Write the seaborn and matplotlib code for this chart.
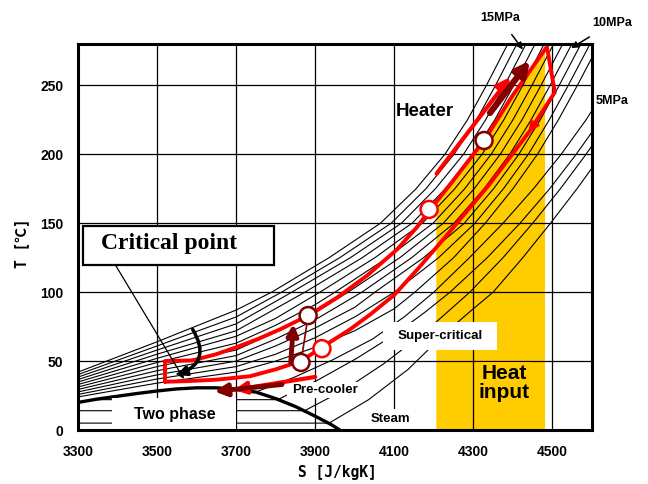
import numpy as np
import pandas as pd
import matplotlib
matplotlib.use("Agg")
import matplotlib.pyplot as plt
from matplotlib.patches import Rectangle
import seaborn as sns

# ---------------- data ----------------
# supercritical isobars (fan from the left edge): T [C] at fixed S (lower part)
fan_S_left = [3300, 3500, 3700, 3800, 3900, 4000, 4100]
fan_T_left = [
    [42.0, 64, 87, None, None, None, None],
    [40.2, 61, 82, None, None, None, None],
    [38.4, 58, 77, None, None, None, None],
    [36.6, 55, 72, None, None, None, None],
    [34.8, 52, 68, 81, None, None, None],
    [33.0, 49, 63, 76, 91, None, None],
    [31.2, 46, 58, 71, 85, None, None],
    [29.4, 43, 54, 66, 80, None, None],
    [27.6, 40, 50, 61, 74, 89, None],
    [25.8, 37, 46, 55, 67, 82, None],
    [24.0, 34, 42, 50, 60, 72, 88],
]
# upper, steep part: S at fixed temperature levels
fan_T_levels = [100, 125, 150, 175, 200, 225, 250, 280]
fan_S_upper = [
    [3790, 3935, 4065, 4155, 4228, 4285, 4333, 4387],
    [3815, 3962, 4092, 4180, 4251, 4308, 4356, 4410],
    [3841, 3989, 4118, 4204, 4275, 4331, 4379, 4433],
    [3874, 4019, 4145, 4229, 4298, 4354, 4402, 4456],
    [3912, 4051, 4171, 4253, 4322, 4377, 4425, 4479],
    [3950, 4083, 4198, 4278, 4345, 4400, 4448, 4503],
    [3983, 4114, 4224, 4302, 4368, 4423, 4471, 4526],
    [4018, 4144, 4251, 4327, 4392, 4446, 4494, 4549],
    [4051, 4174, 4277, 4351, 4415, 4469, 4517, 4572],
    [4100, 4212, 4304, 4376, 4439, 4492, 4540, 4595],
    [4152, 4250, 4330, 4400, 4462, 4515, 4563, 4618],
]

# sub-critical isobars: horizontal part inside the dome + vapour part
gas_S = [
    [3745, 3845, 3945, 4045, 4125, 4200, 4290, 4375, 4452, 4522, 4585, 4640],
    [3340, 3805, 3905, 4005, 4105, 4180, 4241, 4335, 4418, 4493, 4560, 4622],
    [3300, 3873, 3973, 4073, 4173, 4240, 4291, 4375, 4450, 4520, 4585, 4645],
    [3300, 3935, 4035, 4135, 4235, 4300, 4350, 4425, 4495, 4562, 4625],
]
gas_T = [
    [27, 38, 51, 66, 82, 100, 125, 150, 175, 200, 225, 250],
    [22, 22, 36, 52, 70, 86, 100, 125, 150, 175, 200, 225],
    [14, 14, 29, 48, 70, 87, 100, 125, 150, 175, 200, 225],
    [5, 5, 22, 44, 72, 88, 100, 125, 150, 175, 200],
]

# saturation dome
dome_S = [3300, 3350, 3400, 3450, 3500, 3550, 3600, 3650, 3700, 3750, 3800, 3850, 3900, 3940, 3962]
dome_T = [20, 22.5, 24.5, 26.5, 28.3, 29.8, 30.6, 30.6, 29.5, 27.5, 22.8, 17, 10, 4, 0]

# cycle path (red)
cycle_S = [3520, 3520, 3590, 3650, 3700, 3755, 3811, 3882, 3955, 4031, 4107, 4157, 4188, 4241,
           4327, 4400, 4486, 4506, 4443, 4340, 4223, 4160, 4100, 4040, 3988, 3917, 3864, 3800,
           3735, 3650, 3580, 3520]
cycle_T = [35, 50, 50.5, 55, 60, 66, 73, 83, 96, 112, 131, 147, 159, 178,
           210, 243, 278, 245, 217, 178, 138, 117, 98, 84, 73, 60, 50, 44,
           39, 36.5, 35.5, 35]

# state points (circles)
pts_S = [3882, 3864, 3917, 4188, 4327]
pts_T = [83, 49, 59, 160, 210]
pts_edge = ["#800000", "#800000", "#FF0000", "#FF0000", "#800000"]

# heat input area (under the heater line)
heat_S = [4205, 4241, 4327, 4400, 4480]
heat_T = [165, 178, 210, 243, 276]

x_ticks = [3300, 3500, 3700, 3900, 4100, 4300, 4500]
y_ticks = [0, 50, 100, 150, 200, 250]

# ---------------- build tables ----------------
rows = []
for i, (tl, su) in enumerate(zip(fan_T_left, fan_S_upper)):
    for s, t in zip(fan_S_left, tl):
        if t is not None:
            rows.append((f"f{i}", s, t))
    for s, t in zip(su, fan_T_levels):
        rows.append((f"f{i}", s, t))
for j, (ss, tt) in enumerate(zip(gas_S, gas_T)):
    for s, t in zip(ss, tt):
        rows.append((f"g{j}", s, t))
iso_df = pd.DataFrame(rows, columns=["line", "S", "T"])
dome_df = pd.DataFrame({"S": dome_S, "T": dome_T})
cycle_df = pd.DataFrame({"S": cycle_S, "T": cycle_T})
pts_df = pd.DataFrame({"S": pts_S, "T": pts_T, "edge": pts_edge})

# ---------------- figure ----------------
sns.set_theme(style="white")
plt.rcParams["font.family"] = ["Liberation Sans", "DejaVu Sans"]
plt.rcParams["text.color"] = "black"
plt.rcParams["axes.labelcolor"] = "black"
plt.rcParams["xtick.color"] = "black"
plt.rcParams["ytick.color"] = "black"

RED = "#FF0000"
DRED = "#800000"
YEL = "#FFCC00"

fig = plt.figure(figsize=(6.48, 4.84), dpi=100)
ax = fig.add_axes([78 / 648, 54 / 484, 514 / 648, 386 / 484])
ax.set_xlim(3300, 4600)
ax.set_ylim(0, 280)

ax.fill_between(heat_S, 0, heat_T, color=YEL, lw=0, zorder=0.3)

sns.lineplot(data=iso_df, x="S", y="T", units="line", estimator=None, sort=False,
             color="black", lw=0.8, ax=ax, legend=False, zorder=1.5)
sns.lineplot(data=dome_df, x="S", y="T", estimator=None, sort=False,
             color="black", lw=2.4, ax=ax, legend=False, zorder=2)

# white label boxes
def box(s0, s1, t0, t1, fc="white", z=3):
    ax.add_patch(Rectangle((s0, t0), s1 - s0, t1 - t0, fc=fc, ec="none", zorder=z))

box(3385, 3700, 0.5, 23.5)
box(4021, 4158, 0.5, 15)
box(4071, 4360, 58, 78)
box(3829, 4021, 23, 35)

ax.text(3545, 11.5, "Two phase", ha="center", va="center", fontsize=11.5,
        weight="bold", zorder=3.5)
ax.text(4090, 8, "Steam", ha="center", va="center", fontsize=9.5, weight="bold", zorder=3.5)
ax.text(4215, 68, "Super-critical", ha="center", va="center", fontsize=9.6,
        weight="bold", zorder=3.5)
ax.text(3925, 29, "Pre-cooler", ha="center", va="center", fontsize=9.6,
        weight="bold", zorder=3.5)
ax.text(4377, 34, "Heat\ninput", ha="center", va="center", fontsize=15,
        weight="bold", linespacing=1.0, zorder=3.5,
        bbox=dict(boxstyle="square,pad=0.1", fc=YEL, ec="none"))
ax.text(4178, 231, "Heater", ha="center", va="center", fontsize=13.5,
        weight="bold", zorder=3.5)

# cycle
sns.lineplot(data=cycle_df, x="S", y="T", estimator=None, sort=False,
             color=RED, lw=2.8, ax=ax, legend=False, zorder=4)
ax.plot([pts_S[1], pts_S[0]], [pts_T[1], pts_T[0]], color=DRED, lw=1.2, zorder=4.2)

def arrow(x0, y0, x1, y1, color, lw, ms, style="-|>", z=5, cs="arc3"):
    ax.annotate("", xy=(x1, y1), xytext=(x0, y0), zorder=z,
                arrowprops=dict(arrowstyle=style, color=color, lw=lw,
                                mutation_scale=ms, shrinkA=0, shrinkB=0,
                                connectionstyle=cs))

arrow(4207, 186, 4393, 256, RED, 3.0, 20)
arrow(4342, 230, 4443, 268, DRED, 4.5, 20)
arrow(4506, 245, 4440, 216, RED, 1.0, 18)
arrow(3838, 49, 3845, 77, DRED, 3.5, 16)
arrow(3900, 38.5, 3695, 29, RED, 3.0, 18)
arrow(3816, 33, 3645, 28, DRED, 3.5, 18)

sns.scatterplot(data=pts_df, x="S", y="T", ax=ax, color="white", s=150,
                edgecolor=pts_df["edge"].tolist(), linewidth=1.8, zorder=6, legend=False)

# critical point annotation
box(3313, 3795, 119.6, 147.9, z=3)
ax.add_patch(Rectangle((3313, 119.6), 482, 28.3, fc="none", ec="black", lw=1.6, zorder=3.2))
ax.text(3530, 135, "Critical point", ha="center", va="center", fontsize=17,
        weight="bold", family=["Liberation Serif", "DejaVu Serif"], zorder=3.5)
arrow(3394, 120, 3568, 37, "black", 0.9, 12)
arrow(3590, 73, 3550, 40, "black", 2.5, 14, cs="arc3,rad=-0.6")

# pressure labels (outside the frame)
ax.annotate("15MPa", xy=(4425, 276), xytext=(4367, 298.5), ha="center", va="center",
            fontsize=9, weight="bold", annotation_clip=False,
            arrowprops=dict(arrowstyle="-|>", color="black", lw=1.1, mutation_scale=10,
                            shrinkA=6, shrinkB=0))
ax.annotate("10MPa", xy=(4547, 277), xytext=(4650, 295), ha="center", va="center",
            fontsize=9, weight="bold", annotation_clip=False,
            arrowprops=dict(arrowstyle="-|>", color="black", lw=1.1, mutation_scale=10,
                            shrinkA=6, shrinkB=0))
ax.text(4652, 239, "5MPa", ha="center", va="center", fontsize=9, weight="bold",
        clip_on=False)

# axes styling
ax.set_xticks(x_ticks)
ax.set_yticks(y_ticks)
ax.set_axisbelow(True)
ax.grid(True, color="black", lw=0.9)
for sp in ax.spines.values():
    sp.set_color("black")
    sp.set_linewidth(2.2)
    sp.set_zorder(7)
ax.tick_params(direction="in", length=4, width=1, colors="black", labelsize=10)
ax.tick_params(axis="x", pad=11)
ax.tick_params(axis="y", pad=10.5)
for lab in ax.get_xticklabels() + ax.get_yticklabels():
    lab.set_fontweight("bold")
    lab.set_color("black")
ax.set_xlabel("")
ax.set_ylabel("")
fig.text(337 / 648, 1 - 472 / 484, "S [J/kgK]", ha="center", va="center",
         fontsize=10.5, weight="bold", color="black",
         family=["DejaVu Sans Mono", "Noto Sans CJK JP"])
fig.text(22 / 648, 1 - 243 / 484, "T [℃]", ha="center", va="center", rotation=90,
         fontsize=10.5, weight="bold", color="black",
         family=["DejaVu Sans Mono", "Noto Sans CJK JP"])

fig.savefig("out.png", dpi=100)
